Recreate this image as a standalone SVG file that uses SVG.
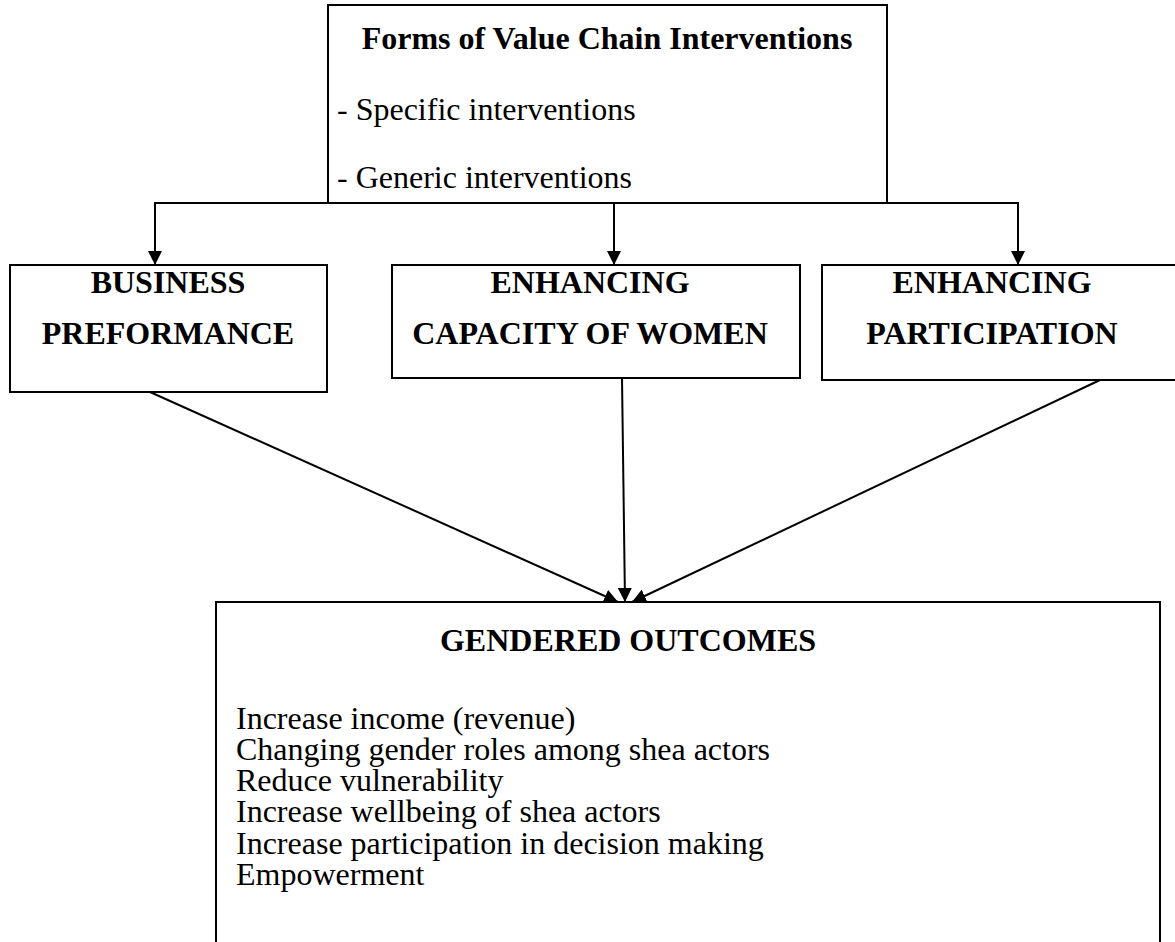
<svg xmlns="http://www.w3.org/2000/svg" width="1175" height="942" viewBox="0 0 1175 942">
<defs>
<style>
.box{fill:#fff;stroke:#000;stroke-width:2}
.t{font-family:"Liberation Serif","Times New Roman",serif;font-size:32px;fill:#000}
.b{font-weight:bold}
.c{text-anchor:middle}
.ln{stroke:#000;stroke-width:2;fill:none}
</style>
<marker id="ah" viewBox="0 0 10 10" refX="10" refY="5" markerWidth="14" markerHeight="14" markerUnits="userSpaceOnUse" orient="auto">
<path d="M0,0 L10,5 L0,10 Z" fill="#000"/>
</marker>
</defs>
<rect width="1175" height="942" fill="#fff"/>
<g id="connectors">
<polyline class="ln" points="328,203 155,203 155,265" marker-end="url(#ah)"/>
<line class="ln" x1="614" y1="203" x2="614" y2="265" marker-end="url(#ah)"/>
<polyline class="ln" points="887,203 1018,203 1018,265" marker-end="url(#ah)"/>
<line class="ln" x1="150" y1="392" x2="618" y2="602" marker-end="url(#ah)"/>
<line class="ln" x1="622" y1="378" x2="625" y2="602" marker-end="url(#ah)"/>
<line class="ln" x1="1100" y1="380" x2="632" y2="602" marker-end="url(#ah)"/>
</g>
<g id="top">
<rect class="box" x="328" y="5" width="559" height="198"/>
<text class="t b c" x="607" y="49">Forms of Value Chain Interventions</text>
<text class="t" x="337" y="120">- Specific interventions</text>
<text class="t" x="337" y="188">- Generic interventions</text>
</g>
<g id="business">
<rect class="box" x="10" y="265" width="317" height="127"/>
<text class="t b c" x="168" y="293">BUSINESS</text>
<text class="t b c" x="168" y="344">PREFORMANCE</text>
</g>
<g id="capacity">
<rect class="box" x="392" y="265" width="408" height="113"/>
<text class="t b c" x="590" y="293">ENHANCING</text>
<text class="t b c" x="590" y="344">CAPACITY OF WOMEN</text>
</g>
<g id="participation">
<rect class="box" x="822" y="265" width="370" height="115"/>
<text class="t b c" x="992" y="293">ENHANCING</text>
<text class="t b c" x="992" y="344">PARTICIPATION</text>
</g>
<g id="outcomes">
<path class="ln" d="M216,950 V602 H1160 V950"/>
<text class="t b c" x="628" y="651">GENDERED OUTCOMES</text>
<text class="t" x="236" y="729">Increase income (revenue)</text>
<text class="t" x="236" y="760">Changing gender roles among shea actors</text>
<text class="t" x="236" y="791">Reduce vulnerability</text>
<text class="t" x="236" y="822">Increase wellbeing of shea actors</text>
<text class="t" x="236" y="854">Increase participation in decision making</text>
<text class="t" x="236" y="885">Empowerment</text>
</g>
</svg>
